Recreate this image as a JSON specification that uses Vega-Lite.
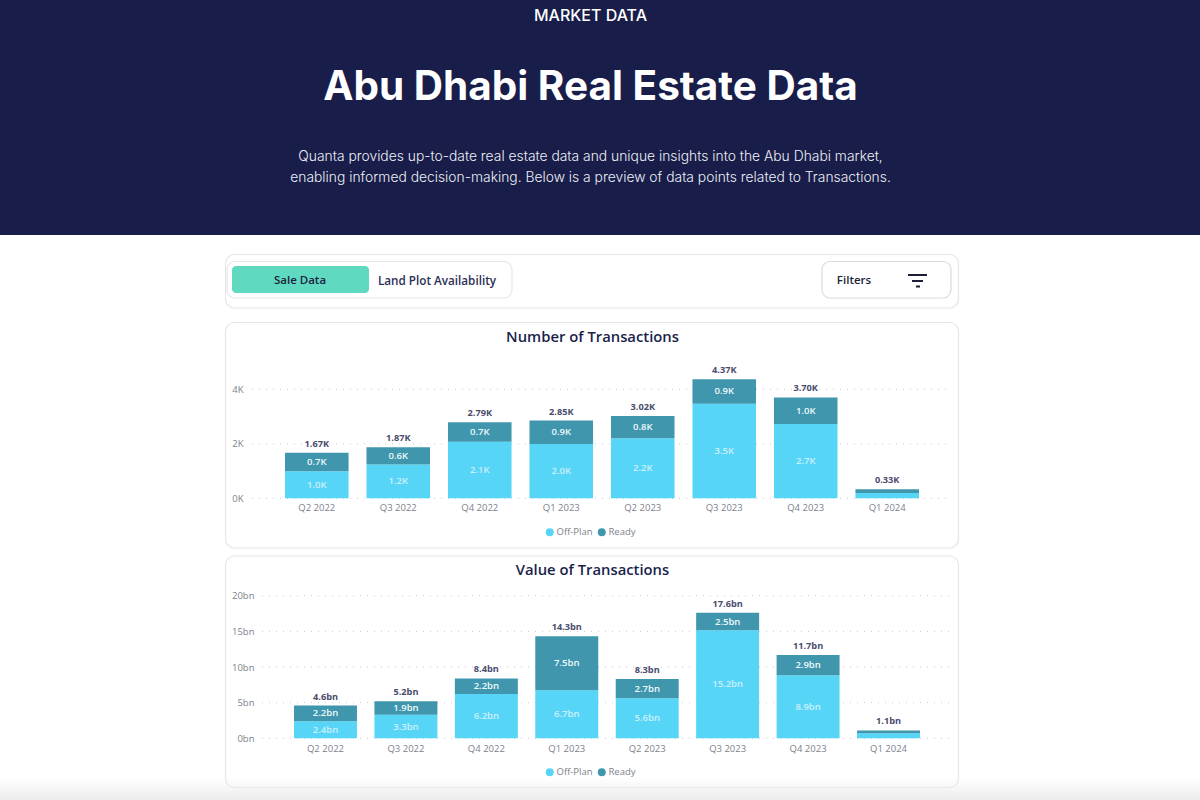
{
"$schema":"https://vega.github.io/schema/vega-lite/v6.json",
"padding":0,"spacing":0,"background":"white",
"config":{"view":{"stroke":null},"font":"Open Sans","concat":{"spacing":0}},
"datasets":{
"countRows":[
{"quarter":"Q2 2022","type":"Off-Plan","value":990,"label":"1.0K"},{"quarter":"Q2 2022","type":"Ready","value":680,"label":"0.7K"},
{"quarter":"Q3 2022","type":"Off-Plan","value":1240,"label":"1.2K"},{"quarter":"Q3 2022","type":"Ready","value":630,"label":"0.6K"},
{"quarter":"Q4 2022","type":"Off-Plan","value":2070,"label":"2.1K"},{"quarter":"Q4 2022","type":"Ready","value":720,"label":"0.7K"},
{"quarter":"Q1 2023","type":"Off-Plan","value":1990,"label":"2.0K"},{"quarter":"Q1 2023","type":"Ready","value":860,"label":"0.9K"},
{"quarter":"Q2 2023","type":"Off-Plan","value":2200,"label":"2.2K"},{"quarter":"Q2 2023","type":"Ready","value":820,"label":"0.8K"},
{"quarter":"Q3 2023","type":"Off-Plan","value":3470,"label":"3.5K"},{"quarter":"Q3 2023","type":"Ready","value":900,"label":"0.9K"},
{"quarter":"Q4 2023","type":"Off-Plan","value":2730,"label":"2.7K"},{"quarter":"Q4 2023","type":"Ready","value":970,"label":"1.0K"},
{"quarter":"Q1 2024","type":"Off-Plan","value":190,"label":""},{"quarter":"Q1 2024","type":"Ready","value":140,"label":""}],
"countTotals":[
{"quarter":"Q2 2022","total":1670,"label":"1.67K"},{"quarter":"Q3 2022","total":1870,"label":"1.87K"},{"quarter":"Q4 2022","total":2790,"label":"2.79K"},{"quarter":"Q1 2023","total":2850,"label":"2.85K"},
{"quarter":"Q2 2023","total":3020,"label":"3.02K"},{"quarter":"Q3 2023","total":4370,"label":"4.37K"},{"quarter":"Q4 2023","total":3700,"label":"3.70K"},{"quarter":"Q1 2024","total":330,"label":"0.33K"}],
"valueRows":[
{"quarter":"Q2 2022","type":"Off-Plan","value":2.4,"label":"2.4bn"},{"quarter":"Q2 2022","type":"Ready","value":2.2,"label":"2.2bn"},
{"quarter":"Q3 2022","type":"Off-Plan","value":3.3,"label":"3.3bn"},{"quarter":"Q3 2022","type":"Ready","value":1.9,"label":"1.9bn"},
{"quarter":"Q4 2022","type":"Off-Plan","value":6.2,"label":"6.2bn"},{"quarter":"Q4 2022","type":"Ready","value":2.2,"label":"2.2bn"},
{"quarter":"Q1 2023","type":"Off-Plan","value":6.75,"label":"6.7bn"},{"quarter":"Q1 2023","type":"Ready","value":7.55,"label":"7.5bn"},
{"quarter":"Q2 2023","type":"Off-Plan","value":5.6,"label":"5.6bn"},{"quarter":"Q2 2023","type":"Ready","value":2.7,"label":"2.7bn"},
{"quarter":"Q3 2023","type":"Off-Plan","value":15.15,"label":"15.2bn"},{"quarter":"Q3 2023","type":"Ready","value":2.45,"label":"2.5bn"},
{"quarter":"Q4 2023","type":"Off-Plan","value":8.85,"label":"8.9bn"},{"quarter":"Q4 2023","type":"Ready","value":2.85,"label":"2.9bn"},
{"quarter":"Q1 2024","type":"Off-Plan","value":0.7,"label":""},{"quarter":"Q1 2024","type":"Ready","value":0.4,"label":""}],
"valueTotals":[
{"quarter":"Q2 2022","total":4.6,"label":"4.6bn"},{"quarter":"Q3 2022","total":5.2,"label":"5.2bn"},{"quarter":"Q4 2022","total":8.4,"label":"8.4bn"},{"quarter":"Q1 2023","total":14.3,"label":"14.3bn"},
{"quarter":"Q2 2023","total":8.3,"label":"8.3bn"},{"quarter":"Q3 2023","total":17.6,"label":"17.6bn"},{"quarter":"Q4 2023","total":11.7,"label":"11.7bn"},{"quarter":"Q1 2024","total":1.1,"label":"1.1bn"}],
"countTicks":[{"tick":0},{"tick":2000},{"tick":4000}],
"valueTicks":[{"tick":0},{"tick":5},{"tick":10},{"tick":15},{"tick":20}]
},
"vconcat":[
{"width":1200,"height":235,
"layer":[
{"data":{"values":[{"part":"header"}]},"mark":{"type":"rect","fill":"#181d4a"},
 "encoding":{"x":{"datum":0,"type":"quantitative","scale":{"domain":[0,1200],"range":[0,1200],"nice":false},"axis":null},"x2":{"datum":1200},
 "y":{"datum":0,"type":"quantitative","scale":{"domain":[0,235],"range":[0,235],"nice":false},"axis":null},"y2":{"datum":235}}},
{"data":{"values":[{"t":"MARKET DATA"}]},"mark":{"type":"text","font":"Inter","fontSize":16,"fontWeight":500,"color":"#ffffff"},
 "encoding":{"x":{"datum":590.5,"type":"quantitative"},"y":{"datum":15.5,"type":"quantitative"},"text":{"field":"t"}}},
{"data":{"values":[{"t":"Abu Dhabi Real Estate Data"}]},"mark":{"type":"text","font":"Inter","fontSize":40.5,"fontWeight":700,"color":"#ffffff"},
 "encoding":{"x":{"datum":590.5,"type":"quantitative"},"y":{"datum":88,"type":"quantitative"},"text":{"field":"t"}}},
{"data":{"values":[{"t":"Quanta provides up-to-date real estate data and unique insights into the Abu Dhabi market,"}]},"mark":{"type":"text","font":"Inter","fontSize":13.85,"fontWeight":300,"color":"#eeeff5"},
 "encoding":{"x":{"datum":590.5,"type":"quantitative"},"y":{"datum":156.5,"type":"quantitative"},"text":{"field":"t"}}},
{"data":{"values":[{"t":"enabling informed decision-making. Below is a preview of data points related to Transactions."}]},"mark":{"type":"text","font":"Inter","fontSize":13.85,"fontWeight":300,"color":"#eeeff5"},
 "encoding":{"x":{"datum":590.5,"type":"quantitative"},"y":{"datum":177.5,"type":"quantitative"},"text":{"field":"t"}}}
]},
{"width":1200,"height":80,
"layer":[
{"data":{"values":[{"part":"card"}]},"mark":{"type":"rect","fill":"#ffffff","stroke":"#e6e6ea","strokeWidth":1.2,"cornerRadius":9},
 "encoding":{"x":{"datum":225.5,"type":"quantitative","scale":{"domain":[0,1200],"range":[0,1200],"nice":false},"axis":null},"x2":{"datum":958.5},
 "y":{"datum":254.5,"type":"quantitative","scale":{"domain":[235,315],"range":[0,80],"nice":false,"zero":false},"axis":null},"y2":{"datum":308}}},
{"data":{"values":[{"part":"tabs"}]},"mark":{"type":"rect","fill":"#ffffff","stroke":"#e6e6ea","strokeWidth":1.2,"cornerRadius":8},
 "encoding":{"x":{"datum":227,"type":"quantitative"},"x2":{"datum":512},"y":{"datum":261.5,"type":"quantitative"},"y2":{"datum":298}}},
{"data":{"values":[{"part":"active"}]},"mark":{"type":"rect","fill":"#5fd9bf","cornerRadius":4},
 "encoding":{"x":{"datum":232,"type":"quantitative"},"x2":{"datum":369},"y":{"datum":266,"type":"quantitative"},"y2":{"datum":293}}},
{"data":{"values":[{"part":"button"}]},"mark":{"type":"rect","fill":"#ffffff","stroke":"#d9dae2","strokeWidth":1.2,"cornerRadius":8},
 "encoding":{"x":{"datum":822,"type":"quantitative"},"x2":{"datum":951},"y":{"datum":261.5,"type":"quantitative"},"y2":{"datum":298}}},
{"data":{"values":[{"t":"Sale Data"}]},"mark":{"type":"text","fontSize":11.5,"fontWeight":600,"color":"#1c2340"},
 "encoding":{"x":{"datum":300,"type":"quantitative"},"y":{"datum":280.5,"type":"quantitative"},"text":{"field":"t"}}},
{"data":{"values":[{"t":"Land Plot Availability"}]},"mark":{"type":"text","fontSize":11.7,"fontWeight":600,"color":"#2b2f55"},
 "encoding":{"x":{"datum":437,"type":"quantitative"},"y":{"datum":280.5,"type":"quantitative"},"text":{"field":"t"}}},
{"data":{"values":[{"t":"Filters"}]},"mark":{"type":"text","fontSize":11.5,"fontWeight":600,"color":"#1c1f3a"},
 "encoding":{"x":{"datum":854,"type":"quantitative"},"y":{"datum":280.5,"type":"quantitative"},"text":{"field":"t"}}},
{"data":{"values":[{"part":"icon1"}]},"mark":{"type":"rule","color":"#1c1f3a","strokeWidth":2},
 "encoding":{"x":{"datum":908,"type":"quantitative"},"x2":{"datum":927},"y":{"datum":275,"type":"quantitative"}}},
{"data":{"values":[{"part":"icon2"}]},"mark":{"type":"rule","color":"#1c1f3a","strokeWidth":2},
 "encoding":{"x":{"datum":912,"type":"quantitative"},"x2":{"datum":923},"y":{"datum":281,"type":"quantitative"}}},
{"data":{"values":[{"part":"icon3"}]},"mark":{"type":"rule","color":"#1c1f3a","strokeWidth":2},
 "encoding":{"x":{"datum":916,"type":"quantitative"},"x2":{"datum":920},"y":{"datum":286.5,"type":"quantitative"}}}
]},
{"width":1200,"height":237,
"resolve":{"scale":{"x":"independent","y":"independent","color":"independent","opacity":"independent"}},
"layer":[
{"data":{"values":[{"part":"card"}]},"mark":{"type":"rect","fill":"#ffffff","stroke":"#e6e6ea","strokeWidth":1.2,"cornerRadius":9},
 "encoding":{"x":{"datum":225.5,"type":"quantitative","scale":{"domain":[0,1200],"range":[0,1200],"nice":false},"axis":null},"x2":{"datum":958.5},
 "y":{"datum":322.5,"type":"quantitative","scale":{"domain":[315,552],"range":[0,237],"nice":false,"zero":false},"axis":null},"y2":{"datum":548}}},
{"data":{"values":[{"t":"Number of Transactions"}]},"mark":{"type":"text","fontSize":14.8,"fontWeight":600,"color":"#1a1f4b"},
 "encoding":{"x":{"datum":592.5,"type":"quantitative","scale":{"domain":[0,1200],"range":[0,1200],"nice":false},"axis":null},
 "y":{"datum":337.5,"type":"quantitative","scale":{"domain":[315,552],"range":[0,237],"nice":false,"zero":false},"axis":null},"text":{"field":"t"}}},
{"data":{"name":"countTicks"},"mark":{"type":"rule","color":"#c9cad2","strokeWidth":1,"strokeDash":[1,6]},
 "encoding":{"x":{"datum":252,"type":"quantitative","scale":{"domain":[0,1200],"range":[0,1200],"nice":false},"axis":null},"x2":{"datum":952},
 "y":{"field":"tick","type":"quantitative","scale":{"domain":[0,5000],"range":[183.3,47],"nice":false},"axis":null}}},
{"data":{"name":"countRows"},"mark":{"type":"bar"},
 "encoding":{"x":{"field":"quarter","type":"nominal","sort":null,"title":null,
   "scale":{"type":"band","domain":["Q2 2022","Q3 2022","Q4 2022","Q1 2023","Q2 2023","Q3 2023","Q4 2023","Q1 2024"],"range":[285,919],"paddingInner":0.22,"paddingOuter":0},
   "axis":{"orient":"bottom","offset":-50,"zindex":1,"domain":false,"ticks":false,"labelAngle":0,"labelFontSize":9.5,"labelColor":"#7d7f8c","labelPadding":0,"labelFont":"Open Sans","grid":false}},
  "y":{"field":"value","type":"quantitative","stack":"zero","title":null,
   "scale":{"domain":[0,5000],"range":[183.3,47],"nice":false},
   "axis":{"orient":"left","offset":-243,"zindex":1,"values":[0,2000,4000],"labelExpr":"datum.value/1000+'K'","domain":false,"ticks":false,"grid":false,"labelPadding":0,"labelFontSize":9.5,"labelColor":"#7d7f8c","labelFont":"Open Sans"}},
  "order":{"field":"type","sort":"ascending"},
  "color":{"field":"type","type":"nominal","scale":{"domain":["Off-Plan","Ready"],"range":["#57d5f7","#3f96ad"]},
   "legend":{"orient":"none","legendX":545,"legendY":212,"direction":"horizontal","title":null,"symbolType":"circle","symbolSize":64,"symbolStrokeWidth":0,"labelFontSize":9.5,"labelColor":"#7d7f8c","labelFont":"Open Sans","labelOffset":2,"columnPadding":4}}}},
{"data":{"name":"countRows"},
 "transform":[{"stack":"value","groupby":["quarter"],"sort":[{"field":"type","order":"ascending"}],"as":["low","high"]},{"calculate":"(datum.low+datum.high)/2","as":"mid"}],
 "mark":{"type":"text","fontSize":9.5,"fontWeight":600,"color":"#f0fafd"},
 "encoding":{"x":{"field":"quarter","type":"nominal","sort":null,
   "scale":{"type":"band","domain":["Q2 2022","Q3 2022","Q4 2022","Q1 2023","Q2 2023","Q3 2023","Q4 2023","Q1 2024"],"range":[285,919],"paddingInner":0.22,"paddingOuter":0},"axis":null},
  "y":{"field":"mid","type":"quantitative","scale":{"domain":[0,5000],"range":[183.3,47],"nice":false},"axis":null},
  "opacity":{"field":"type","type":"nominal","scale":{"domain":["Off-Plan","Ready"],"range":[0.75,1]},"legend":null},
  "text":{"field":"label"}}},
{"data":{"name":"countTotals"},"mark":{"type":"text","fontSize":9.2,"fontWeight":700,"color":"#4a4c6e","baseline":"bottom","dy":-4},
 "encoding":{"x":{"field":"quarter","type":"nominal","sort":null,
   "scale":{"type":"band","domain":["Q2 2022","Q3 2022","Q4 2022","Q1 2023","Q2 2023","Q3 2023","Q4 2023","Q1 2024"],"range":[285,919],"paddingInner":0.22,"paddingOuter":0},"axis":null},
  "y":{"field":"total","type":"quantitative","scale":{"domain":[0,5000],"range":[183.3,47],"nice":false},"axis":null},
  "text":{"field":"label"}}}
]},
{"width":1200,"height":248,
"resolve":{"scale":{"x":"independent","y":"independent","color":"independent","opacity":"independent"}},
"layer":[
{"data":{"values":[{"part":"card"}]},"mark":{"type":"rect","fill":"#ffffff","stroke":"#e6e6ea","strokeWidth":1.2,"cornerRadius":9},
 "encoding":{"x":{"datum":225.5,"type":"quantitative","scale":{"domain":[0,1200],"range":[0,1200],"nice":false},"axis":null},"x2":{"datum":958.5},
 "y":{"datum":556,"type":"quantitative","scale":{"domain":[552,800],"range":[0,248],"nice":false,"zero":false},"axis":null},"y2":{"datum":787.5}}},
{"data":{"values":[{"t":"Value of Transactions"}]},"mark":{"type":"text","fontSize":14.8,"fontWeight":600,"color":"#1a1f4b"},
 "encoding":{"x":{"datum":592.5,"type":"quantitative","scale":{"domain":[0,1200],"range":[0,1200],"nice":false},"axis":null},
 "y":{"datum":570.5,"type":"quantitative","scale":{"domain":[552,800],"range":[0,248],"nice":false,"zero":false},"axis":null},"text":{"field":"t"}}},
{"data":{"name":"valueTicks"},"mark":{"type":"rule","color":"#c9cad2","strokeWidth":1,"strokeDash":[1,6]},
 "encoding":{"x":{"datum":262,"type":"quantitative","scale":{"domain":[0,1200],"range":[0,1200],"nice":false},"axis":null},"x2":{"datum":952},
 "y":{"field":"tick","type":"quantitative","scale":{"domain":[0,20],"range":[186.3,43.7],"nice":false},"axis":null}}},
{"data":{"name":"valueRows"},"mark":{"type":"bar"},
 "encoding":{"x":{"field":"quarter","type":"nominal","sort":null,"title":null,
   "scale":{"type":"band","domain":["Q2 2022","Q3 2022","Q4 2022","Q1 2023","Q2 2023","Q3 2023","Q4 2023","Q1 2024"],"range":[294,920],"paddingInner":0.217,"paddingOuter":0},
   "axis":{"orient":"bottom","offset":-57,"zindex":1,"domain":false,"ticks":false,"labelAngle":0,"labelFontSize":9.5,"labelColor":"#7d7f8c","labelPadding":0,"labelFont":"Open Sans","grid":false}},
  "y":{"field":"value","type":"quantitative","stack":"zero","title":null,
   "scale":{"domain":[0,20],"range":[186.3,43.7],"nice":false},
   "axis":{"orient":"left","offset":-254,"zindex":1,"values":[0,5,10,15,20],"labelExpr":"datum.value+'bn'","domain":false,"ticks":false,"grid":false,"labelPadding":0,"labelFontSize":9.5,"labelColor":"#7d7f8c","labelFont":"Open Sans"}},
  "order":{"field":"type","sort":"ascending"},
  "color":{"field":"type","type":"nominal","scale":{"domain":["Off-Plan","Ready"],"range":["#57d5f7","#3f96ad"]},
   "legend":{"orient":"none","legendX":545,"legendY":215,"direction":"horizontal","title":null,"symbolType":"circle","symbolSize":64,"symbolStrokeWidth":0,"labelFontSize":9.5,"labelColor":"#7d7f8c","labelFont":"Open Sans","labelOffset":2,"columnPadding":4}}}},
{"data":{"name":"valueRows"},
 "transform":[{"stack":"value","groupby":["quarter"],"sort":[{"field":"type","order":"ascending"}],"as":["low","high"]},{"calculate":"(datum.low+datum.high)/2","as":"mid"}],
 "mark":{"type":"text","fontSize":9.5,"fontWeight":600,"color":"#f0fafd"},
 "encoding":{"x":{"field":"quarter","type":"nominal","sort":null,
   "scale":{"type":"band","domain":["Q2 2022","Q3 2022","Q4 2022","Q1 2023","Q2 2023","Q3 2023","Q4 2023","Q1 2024"],"range":[294,920],"paddingInner":0.217,"paddingOuter":0},"axis":null},
  "y":{"field":"mid","type":"quantitative","scale":{"domain":[0,20],"range":[186.3,43.7],"nice":false},"axis":null},
  "opacity":{"field":"type","type":"nominal","scale":{"domain":["Off-Plan","Ready"],"range":[0.75,1]},"legend":null},
  "text":{"field":"label"}}},
{"data":{"name":"valueTotals"},"mark":{"type":"text","fontSize":9.2,"fontWeight":700,"color":"#4a4c6e","baseline":"bottom","dy":-4},
 "encoding":{"x":{"field":"quarter","type":"nominal","sort":null,
   "scale":{"type":"band","domain":["Q2 2022","Q3 2022","Q4 2022","Q1 2023","Q2 2023","Q3 2023","Q4 2023","Q1 2024"],"range":[294,920],"paddingInner":0.217,"paddingOuter":0},"axis":null},
  "y":{"field":"total","type":"quantitative","scale":{"domain":[0,20],"range":[186.3,43.7],"nice":false},"axis":null},
  "text":{"field":"label"}}},
{"data":{"values":[{"part":"fade"}]},"mark":{"type":"rect","fill":{"gradient":"linear","x1":0,"y1":0,"x2":0,"y2":1,"stops":[{"offset":0,"color":"rgba(236,236,236,0)"},{"offset":1,"color":"rgba(236,236,236,1)"}]}},
 "encoding":{"x":{"datum":0,"type":"quantitative","scale":{"domain":[0,1200],"range":[0,1200],"nice":false},"axis":null},"x2":{"datum":1200},
 "y":{"datum":778,"type":"quantitative","scale":{"domain":[552,800],"range":[0,248],"nice":false,"zero":false},"axis":null},"y2":{"datum":800}}}
]}
]
}
